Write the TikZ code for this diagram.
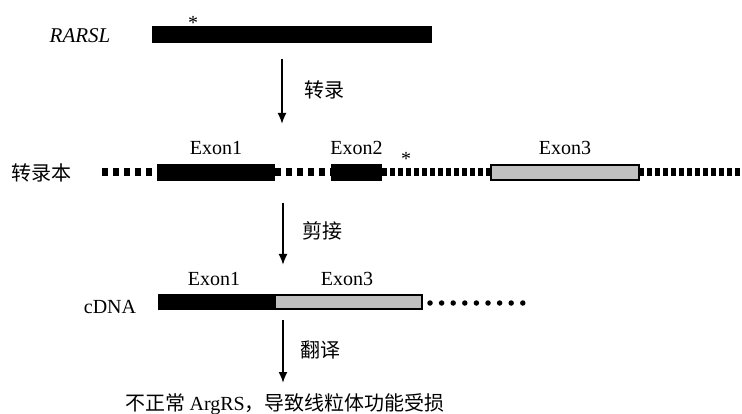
\documentclass[tikz,border=0pt]{standalone}
\usepackage{fontspec}
\setmainfont{Liberation Serif}
\newfontfamily\cjk{Noto Sans CJK SC}
\usetikzlibrary{arrows,arrows.meta}
\tikzset{>={Latex[length=11pt,width=9pt]}}
\definecolor{exgrey}{RGB}{192,192,192}

\begin{document}
\begin{tikzpicture}[x=1pt,y=-1pt,
    lbl/.style={font=\fontsize{20}{22}\selectfont,inner sep=0pt},
    zh/.style={font=\fontsize{20}{22}\selectfont\cjk,inner sep=0pt},
    blk/.style={fill=black,inner sep=0pt,outer sep=0pt},
    gry/.style={fill=exgrey,draw=black,line width=2pt,inner sep=0pt,outer sep=0pt},
    intron/.style={line width=8pt,dash pattern=on 6pt off 5pt},
    tail/.style={line width=8pt,dash pattern=on 5pt off 3pt},
    dotline/.style={line width=5.5pt,line cap=round,dash pattern=on 0pt off 11.6pt},
    flow/.style={->,line width=1.8pt}]
    \useasboundingbox (0,0) rectangle (742,414);
    % gene
    \node[lbl,anchor=base,font=\fontsize{21}{22}\selectfont\itshape] (gene) at (80,43) {RARSL};
    \node[blk,minimum width=280pt,minimum height=17pt] (rarsl) at (292,34.5) {};
    \node[lbl,anchor=base] (mut1) at (193,30) {*};
    % transcription
    \coordinate (t1) at (282,59);
    \coordinate (t2) at (282,124);
    \draw[flow] (t1) -- (t2);
    \node[zh,anchor=west] (tr) at (304,90) {转录};
    % transcript
    \node[zh] (rna) at (42,173) {转录本};
    \coordinate (s0) at (102,172.5);
    \coordinate (s9) at (742,172.5);
    \node[blk,minimum width=118pt,minimum height=17pt] (ex1) at (216,172.5) {};
    \node[blk,minimum width=51pt,minimum height=17pt] (ex2) at (356.5,172.5) {};
    \node[gry,minimum width=148pt,minimum height=15pt] (ex3) at (565,172.5) {};
    \draw[intron] (s0) -- (ex1.west);
    \draw[intron] (ex1.east) -- (ex2.west);
    \draw[tail] (ex2.east) -- (ex3.west);
    \draw[tail] (ex3.east) -- (s9);
    \node[lbl,anchor=base] (l1) at (216,155) {Exon1};
    \node[lbl,anchor=base] (l2) at (356.5,155) {Exon2};
    \node[lbl,anchor=base] (l3) at (565,155) {Exon3};
    \node[lbl,anchor=base] (mut2) at (406,166) {*};
    % splicing
    \coordinate (p1) at (283,203);
    \coordinate (p2) at (283,265);
    \draw[flow] (p1) -- (p2);
    \node[zh,anchor=west] (sp) at (302,231) {剪接};
    % cDNA
    \node[lbl,anchor=base] (cdna) at (110,313) {cDNA};
    \node[blk,minimum width=117pt,minimum height=16pt] (c1) at (216.5,302) {};
    \node[gry,minimum width=147pt,minimum height=14pt] (c3) at (348.5,302) {};
    \coordinate (cend) at (525,303);
    \draw[dotline] ([xshift=8pt,yshift=-1pt]c3.east) -- (cend);
    \node[lbl,anchor=base] (m1) at (214,286) {Exon1};
    \node[lbl,anchor=base] (m3) at (347,286) {Exon3};
    % translation
    \coordinate (q1) at (283,320);
    \coordinate (q2) at (283,383);
    \draw[flow] (q1) -- (q2);
    \node[zh,anchor=west] (tl) at (300,350) {翻译};
    \node[zh] (res) at (285,404) {不正常 {\rmfamily ArgRS}，导致线粒体功能受损};
\end{tikzpicture}
\end{document}
